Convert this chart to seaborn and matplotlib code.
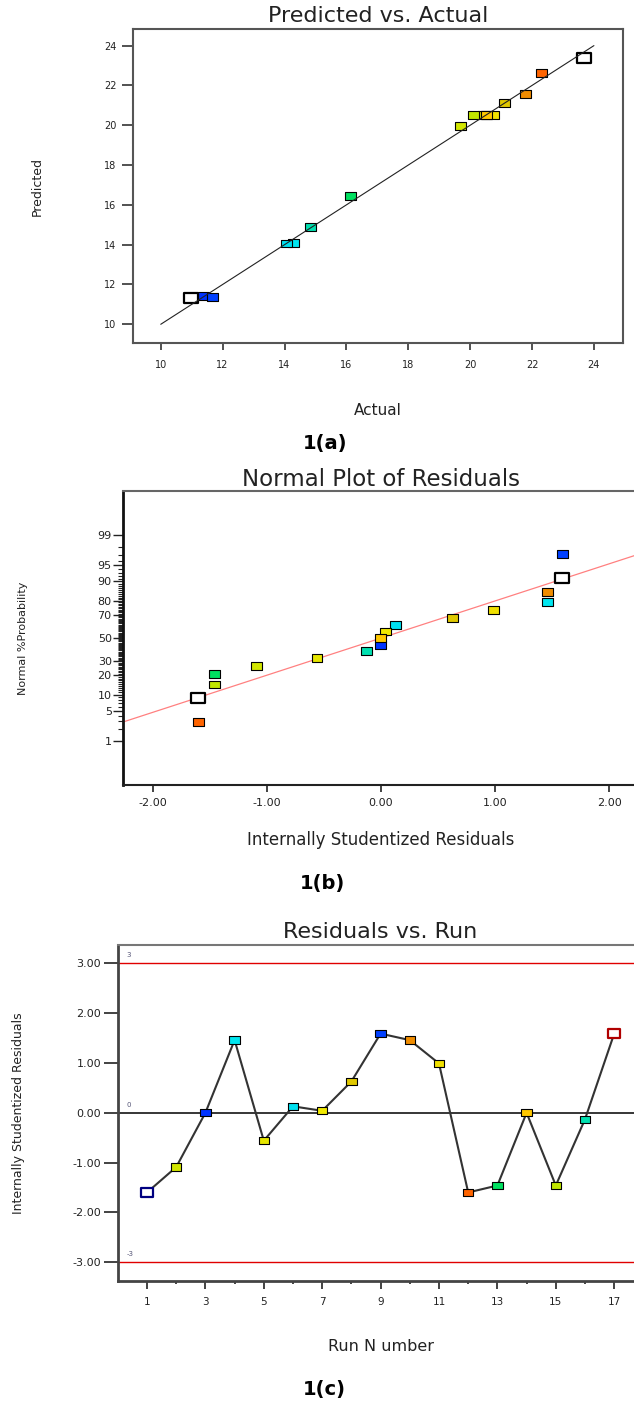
import numpy as np
import pandas as pd
import matplotlib
matplotlib.use("Agg")
import matplotlib.pyplot as plt
from matplotlib.path import Path
import seaborn as sns
from statistics import NormalDist

# ---------------- data ----------------
runs = list(range(1, 18))
actual = [10.99, 19.68, 11.38, 14.29, 20.43, 14.05, 20.53, 21.12, 11.67, 21.80,
          20.77, 22.30, 16.14, 20.52, 20.11, 14.85, 23.67]
predicted = [11.33, 19.96, 11.41, 14.07, 20.52, 14.06, 20.52, 21.10, 11.36, 21.57,
             20.52, 22.63, 16.43, 20.52, 20.52, 14.89, 23.37]
residuals = [-1.60, -1.09, 0.00, 1.46, -0.56, 0.13, 0.04, 0.63, 1.59, 1.46,
             0.99, -1.60, -1.46, 0.00, -1.46, -0.13, 1.59]
normal_pct = [8.8, 26.5, 44.1, 79.4, 32.4, 61.8, 55.9, 67.6, 97.1, 85.3,
              73.5, 2.9, 20.6, 50.0, 14.7, 38.2, 91.2]
run_colors = ["#ffffff", "#d2e600", "#0033ff", "#00e6f0", "#e6e600", "#00e0f0",
              "#f0e800", "#e0c800", "#0040ff", "#f08c00", "#f0e000", "#ff6400",
              "#00e060", "#ffc800", "#c0e600", "#00e0b0", "#ffffff"]
white_runs = [1, 17]
white_edges_c = ["#000080", "#b00000"]

fit_x = [10, 24]
fit_y = [10, 24]
prob_line_x = [-2.26, 2.26]
prob_line_pct = [2.9, 97.1]
prob_major = [1, 5, 10, 20, 30, 50, 70, 80, 90, 95, 99]
prob_minor = [p for p in range(1, 100) if p not in prob_major]
limits = [3, 0, -3]

titles = ["Predicted vs. Actual", "Normal Plot of Residuals", "Residuals vs. Run"]
captions = ["1(a)", "1(b)", "1(c)"]

df = pd.DataFrame({"run": runs, "actual": actual, "predicted": predicted,
                   "residual": residuals, "pct": normal_pct})
palette = dict(zip(runs, run_colors))
df_col = df[~df["run"].isin(white_runs)]
df_wht = df[df["run"].isin(white_runs)]

# ---------------- style ----------------
sns.set_style("white")
plt.rcParams["font.family"] = ["DejaVu Sans"]
TXT = "#222222"

rect = Path([(-0.7, -0.5), (0.7, -0.5), (0.7, 0.5), (-0.7, 0.5), (-0.7, -0.5)],
            [Path.MOVETO, Path.LINETO, Path.LINETO, Path.LINETO, Path.CLOSEPOLY])

W, H = 634, 1401
fig = plt.figure(figsize=(W / 100, H / 100), dpi=100)


def ax_rect(l, t, r, b):
    return [l / W, 1 - b / H, (r - l) / W, (b - t) / H]


def label_pos(ax, xlab_frac, ylab_frac):
    ax.xaxis.set_label_coords(0.5, xlab_frac)
    ax.xaxis.label.set_va("center")
    ax.yaxis.set_label_coords(ylab_frac, 0.5)
    ax.yaxis.label.set_va("center")


# ---------------- (a) Predicted vs Actual ----------------
axa = fig.add_axes(ax_rect(132.6, 29.3, 623, 343.4))
sns.scatterplot(data=df_col, x="actual", y="predicted", hue="run", palette=palette,
                marker=rect, s=62, edgecolor="black", linewidth=0.8, legend=False,
                ax=axa, zorder=3)
sns.scatterplot(data=df_wht, x="actual", y="predicted", color="white",
                marker=rect, s=88, edgecolor="black", linewidth=1.6, legend=False,
                ax=axa, zorder=3)
sns.lineplot(x=fit_x, y=fit_y, color="#222222", lw=0.8, ax=axa, zorder=4)
axa.set_xlim(9.09, 24.94)
axa.set_ylim(9.04, 24.82)
axa.set_xticks(range(10, 25, 2))
axa.set_yticks(range(10, 25, 2))
axa.tick_params(axis="x", direction="out", length=5, width=1.2, pad=7,
                labelsize=7, colors="#333333", labelcolor=TXT, bottom=True)
axa.tick_params(axis="y", direction="out", length=8, width=1.2, pad=3.5,
                labelsize=7, colors="#333333", labelcolor=TXT, left=True)
for s in axa.spines.values():
    s.set_color("#555555")
    s.set_linewidth(1.5)
axa.set_xlabel("Actual", fontsize=11, color=TXT)
axa.set_ylabel("Predicted", fontsize=9, color=TXT)
label_pos(axa, -0.215, -0.194)
axa.set_title(titles[0], fontsize=16, color=TXT, pad=5)

# ---------------- (b) Normal plot ----------------
nd = NormalDist()


def _inv(q):
    if not np.isfinite(q):
        return np.nan
    return nd.inv_cdf(min(max(q, 1e-9), 1 - 1e-9))


def _cdf(z):
    if not np.isfinite(z):
        return np.nan
    return nd.cdf(z)


v_inv = np.vectorize(_inv, otypes=[float])
v_cdf = np.vectorize(_cdf, otypes=[float])


def fwd(p):
    return v_inv(np.asarray(p, dtype=float) / 100.0)


def inv(z):
    return 100.0 * v_cdf(np.asarray(z, dtype=float))


axb = fig.add_axes(ax_rect(122.8, 491.2, 639, 785))
axb.set_yscale("function", functions=(fwd, inv))
sns.lineplot(x=prob_line_x, y=prob_line_pct, color="#ff8080", lw=0.9, ax=axb, zorder=2)
sns.scatterplot(data=df_col, x="residual", y="pct", hue="run", palette=palette,
                marker=rect, s=62, edgecolor="black", linewidth=0.8, legend=False,
                ax=axb, zorder=3)
sns.scatterplot(data=df_wht, x="residual", y="pct", color="white",
                marker=rect, s=88, edgecolor="black", linewidth=1.6, legend=False,
                ax=axb, zorder=3)
axb.set_xlim(-2.263, 2.263)
axb.set_ylim(0.045, 99.955)
axb.set_xticks([-2, -1, 0, 1, 2])
axb.set_xticklabels([f"{v:.2f}" for v in [-2, -1, 0, 1, 2]])
axb.set_yticks(prob_major)
axb.set_yticklabels([str(p) for p in prob_major])
axb.set_yticks(prob_minor, minor=True)
axb.tick_params(axis="x", direction="out", length=5, width=1.2, pad=4,
                labelsize=8, colors="#222222", labelcolor=TXT, bottom=True)
axb.tick_params(axis="y", which="major", direction="out", length=7, width=1.0, pad=1,
                labelsize=8, colors="#222222", labelcolor=TXT, left=True)
axb.tick_params(axis="y", which="minor", direction="out", length=3.8, width=0.8,
                colors="#222222", left=True)
axb.spines["left"].set_color("#111111")
axb.spines["left"].set_linewidth(2)
axb.spines["bottom"].set_color("#222222")
axb.spines["bottom"].set_linewidth(1.5)
axb.spines["top"].set_color("#666666")
axb.spines["top"].set_linewidth(1.5)
axb.spines["right"].set_visible(False)
axb.set_xlabel("Internally Studentized Residuals", fontsize=12, color=TXT)
axb.set_ylabel("Normal %Probability", fontsize=8, color=TXT)
label_pos(axb, -0.187, -0.193)
axb.set_title(titles[1], fontsize=16.5, color=TXT, pad=4)

# ---------------- (c) Residuals vs Run ----------------
axc = fig.add_axes(ax_rect(117.8, 945, 643.4, 1280.6))
for lv in limits:
    axc.axhline(lv, color="black" if lv == 0 else "#e00000",
                lw=1.1 if lv == 0 else 1.0, zorder=1)
    axc.text(0.3, lv + 0.1, str(lv), fontsize=5, color="#555577", va="bottom",
             ha="left")
sns.lineplot(data=df, x="run", y="residual", color="#333333", lw=1.5, ax=axc,
             zorder=2, sort=True)
sns.scatterplot(data=df_col, x="run", y="residual", hue="run", palette=palette,
                marker=rect, s=55, edgecolor="black", linewidth=0.8, legend=False,
                ax=axc, zorder=3)
sns.scatterplot(data=df_wht, x="run", y="residual", color="white",
                marker=rect, s=80, edgecolor=white_edges_c, linewidth=1.6,
                legend=False, ax=axc, zorder=3)
axc.set_xlim(0, 18)
axc.set_ylim(-3.37, 3.37)
axc.set_xticks(range(1, 18, 2))
axc.set_xticks(range(2, 17, 2), minor=True)
axc.set_yticks([-3, -2, -1, 0, 1, 2, 3])
axc.set_yticklabels([f"{v:.2f}" for v in [-3, -2, -1, 0, 1, 2, 3]])
axc.tick_params(axis="x", which="major", direction="out", length=6, width=1.2, pad=6,
                labelsize=7.5, colors="#222222", labelcolor=TXT, bottom=True)
axc.tick_params(axis="x", which="minor", direction="out", length=2.5, width=1.2,
                colors="#222222", bottom=True)
axc.tick_params(axis="y", direction="out", length=10, width=1.2, pad=2,
                labelsize=8, colors="#222222", labelcolor=TXT, left=True)
axc.spines["left"].set_color("#444444")
axc.spines["left"].set_linewidth(2)
axc.spines["bottom"].set_color("#444444")
axc.spines["bottom"].set_linewidth(2)
axc.spines["top"].set_color("#777777")
axc.spines["top"].set_linewidth(1.5)
axc.spines["right"].set_visible(False)
axc.set_xlabel("Run N umber", fontsize=11.5, color=TXT)
axc.set_ylabel("Internally Studentized Residuals", fontsize=9, color=TXT)
label_pos(axc, -0.195, -0.189)
axc.set_title(titles[2], fontsize=16, color=TXT, pad=5)

# ---------------- captions ----------------
for cap, (cx, cy) in zip(captions, [(325, 444), (322, 884), (324, 1390)]):
    fig.text(cx / W, 1 - cy / H, cap, fontsize=14, fontweight="bold",
             ha="center", va="center", color="black")

fig.savefig("out.png", dpi=100)
